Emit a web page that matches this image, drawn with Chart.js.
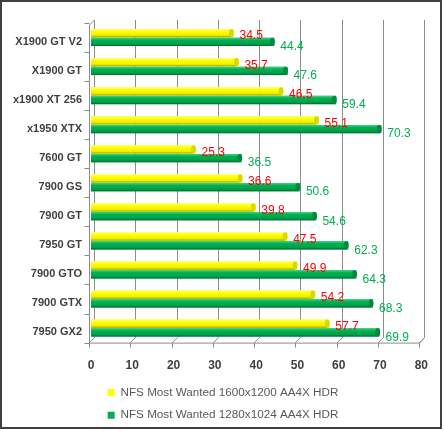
<!DOCTYPE html>
<html>
<head>
<meta charset="utf-8">
<script src="https://cdn.jsdelivr.net/npm/chart.js@4.4.1/dist/chart.umd.min.js"></script>
<style>
  html, body { margin: 0; padding: 0; background: #fff; }
  #wrap { width: 444px; height: 431px; position: relative; }
</style>
</head>
<body>
<div id="wrap"><canvas id="c"></canvas></div>
<script>
const categories = ["X1900 GT V2", "X1900 GT", "x1900 XT 256", "x1950 XTX", "7600 GT", "7900 GS", "7900 GT", "7950 GT", "7900 GTO", "7900 GTX", "7950 GX2"];
const series1600 = [34.5, 35.7, 46.5, 55.1, 25.3, 36.6, 39.8, 47.5, 49.9, 54.2, 57.7];
const series1280 = [44.4, 47.6, 59.4, 70.3, 36.5, 50.6, 54.6, 62.3, 64.3, 68.3, 69.9];
const seriesNames = ["NFS Most Wanted 1600x1200 AA4X HDR", "NFS Most Wanted 1280x1024 AA4X HDR"];
const xTicks = [0, 10, 20, 30, 40, 50, 60, 70, 80];

const labelColors = ["#FF0000", "#00B050"];
const shadeStops = [
  [[0, '#ffff80'], [0.3, '#ffff00'], [0.75, '#eeee00'], [1, '#a3a300']],
  [[0, '#3fd488'], [0.3, '#00b050'], [0.75, '#00a048'], [1, '#006a30']]
];
const capColors = ['#d9d900', '#008a3e'];

const framePlugin = {
  id: 'frame',
  beforeDraw(chart) {
    const ctx = chart.ctx;
    ctx.save();
    ctx.fillStyle = '#ffffff';
    ctx.fillRect(0, 0, chart.width, chart.height);
    ctx.restore();
  },
  afterDraw(chart) {
    const ctx = chart.ctx;
    ctx.save();
    ctx.strokeStyle = '#404040';
    ctx.lineWidth = 2;
    ctx.strokeRect(1, 1, chart.width - 4, chart.height - 4);
    ctx.restore();
  }
};

const legendShiftPlugin = {
  id: 'legendShift',
  afterLayout(chart) {
    const l = chart.legend;
    if (l) { l.left += 12; l.right += 12; }
  }
};

const DX = 5, DY = 5;
const wallPlugin = {
  id: 'wall',
  beforeDatasetsDraw(chart) {
    const ctx = chart.ctx;
    const xs = chart.scales.x;
    const bottom = chart.chartArea.bottom, top = chart.chartArea.top;
    ctx.save();
    ctx.strokeStyle = '#8c8c8c';
    ctx.lineWidth = 1;
    const x0 = Math.round(xs.getPixelForValue(0)) - 1.5;
    const x1 = Math.round(xs.getPixelForValue(80)) - 1.5;
    xTicks.forEach(v => {
      const px = Math.round(xs.getPixelForValue(v)) - 1.5;
      ctx.beginPath();
      ctx.moveTo(px + DX, top - 3);
      ctx.lineTo(px + DX, bottom - DY);
      ctx.lineTo(px, bottom);
      ctx.lineTo(px, bottom + 5);
      ctx.stroke();
    });
    ctx.beginPath();
    ctx.moveTo(x0, bottom + 0.5);
    ctx.lineTo(x1, bottom + 0.5);
    ctx.lineTo(x1 + DX, bottom - DY);
    ctx.stroke();
    ctx.beginPath();
    ctx.moveTo(x0 + DX, top - 3);
    ctx.lineTo(x0, top + 2);
    ctx.lineTo(x0, bottom);
    ctx.stroke();
    for (let i = 0; i <= categories.length; i++) {
      const py = Math.round(top + (bottom - top) * i / categories.length) + 0.5;
      ctx.beginPath();
      ctx.moveTo(x0 - 5, py);
      ctx.lineTo(x0, py);
      ctx.stroke();
    }
    ctx.restore();
  }
};

const shadePlugin = {
  id: 'shade',
  afterDatasetsDraw(chart) {
    const ctx = chart.ctx;
    ctx.save();
    chart.data.datasets.forEach((ds, di) => {
      const meta = chart.getDatasetMeta(di);
      meta.data.forEach(bar => {
        const p = bar.getProps(['x', 'y', 'base', 'height'], true);
        const t = p.y - p.height / 2, h = p.height;
        const g = ctx.createLinearGradient(0, t, 0, t + h);
        shadeStops[di].forEach(s => g.addColorStop(s[0], s[1]));
        ctx.fillStyle = g;
        ctx.fillRect(p.base, t, p.x - p.base - 2, h);
        ctx.fillStyle = capColors[di];
        ctx.beginPath();
        ctx.ellipse(p.x - 2, t + h / 2, 2.5, h / 2, 0, 0, Math.PI * 2);
        ctx.fill();
      });
    });
    ctx.restore();
  }
};

const valueLabelPlugin = {
  id: 'valueLabels',
  afterDatasetsDraw(chart) {
    const ctx = chart.ctx;
    ctx.save();
    ctx.font = '12px "Liberation Sans", Arial, sans-serif';
    ctx.textAlign = 'left';
    ctx.textBaseline = 'middle';
    chart.data.datasets.forEach((ds, di) => {
      const meta = chart.getDatasetMeta(di);
      meta.data.forEach((bar, i) => {
        ctx.fillStyle = labelColors[di];
        ctx.fillText(ds.data[i].toFixed(1), bar.x + 6, bar.y + (di === 0 ? 3 : 5));
      });
    });
    ctx.restore();
  }
};

new Chart(document.getElementById('c'), {
  type: 'bar',
  data: {
    labels: categories,
    datasets: [
      {
        label: seriesNames[0],
        data: series1600,
        backgroundColor: '#FFFF00',
        borderColor: '#BDBD00',
        borderWidth: 0,
        barPercentage: 0.95,
        categoryPercentage: 0.6
      },
      {
        label: seriesNames[1],
        data: series1280,
        backgroundColor: '#00B050',
        borderColor: '#00753A',
        borderWidth: 0,
        barPercentage: 0.95,
        categoryPercentage: 0.6
      }
    ]
  },
  options: {
    indexAxis: 'y',
    responsive: true,
    maintainAspectRatio: false,
    animation: false,
    devicePixelRatio: 1,
    layout: { padding: { top: 23, right: 22, bottom: 0, left: 0 } },
    scales: {
      x: {
        min: 0,
        max: 80,
        afterBuildTicks: s => { s.ticks = xTicks.map(v => ({ value: v })); },
        afterFit: s => { s.height = 33; },
        grid: { display: false, drawTicks: false },
        border: { display: false },
        ticks: {
          padding: 16,
          color: '#404040',
          font: { family: '"Liberation Sans", Arial, sans-serif', size: 12, weight: 'bold' }
        }
      },
      y: {
        afterFit: s => { s.width = 91; },
        grid: { display: false, drawTicks: false },
        border: { display: false },
        ticks: {
          padding: 9,
          labelOffset: 4,
          color: '#404040',
          font: { family: '"Liberation Sans", Arial, sans-serif', size: 11, weight: 'bold' }
        }
      }
    },
    plugins: {
      legend: {
        position: 'bottom',
        labels: {
          boxWidth: 7,
          boxHeight: 7,
          padding: 11,
          color: '#595959',
          font: { family: '"Liberation Sans", Arial, sans-serif', size: 11.7 }
        }
      },
      tooltip: { enabled: false }
    }
  },
  plugins: [framePlugin, legendShiftPlugin, wallPlugin, shadePlugin, valueLabelPlugin]
});
</script>
</body>
</html>
